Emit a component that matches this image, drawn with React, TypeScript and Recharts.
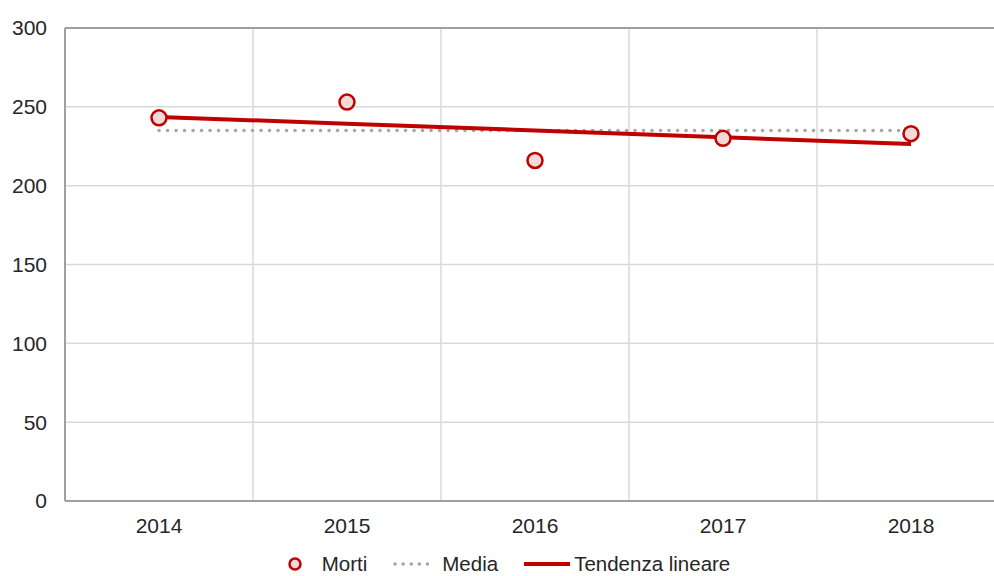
import { LineChart, Line, XAxis, YAxis, CartesianGrid, Legend, ReferenceLine } from "recharts";

const years = ["2014", "2015", "2016", "2017", "2018"];
const morti = [243, 253, 216, 230, 233];
const media = [235, 235, 235, 235, 235];
const tendenza = [243.6, 239.3, 235.0, 230.7, 226.4];
const yTicks = [0, 50, 100, 150, 200, 250, 300];

const RED = "#C00000";
const PINK = "#F4D9D9";
const GREY_DOT = "#A6A6A6";
const GRID = "#D9D9D9";
const AXIS = "#A0A0A0";
const TEXT = "#262626";
const FONT = "'Liberation Sans', Arial, sans-serif";

const data = years.map((year, i) => ({
  year,
  morti: morti[i],
  media: media[i],
  tendenza: tendenza[i],
}));

const legendItems = [
  { key: "morti", label: "Morti" },
  { key: "media", label: "Media" },
  { key: "tendenza", label: "Tendenza lineare" },
];

const LegendIcon = ({ kind }: { kind: string }) => {
  if (kind === "morti") {
    return (
      <svg width={14} height={18} style={{ marginRight: 20 }}>
        <circle cx={7} cy={9} r={5.5} fill={PINK} stroke={RED} strokeWidth={2.5} />
      </svg>
    );
  }
  if (kind === "media") {
    return (
      <svg width={44} height={18} style={{ marginRight: 5 }}>
        <line x1={2} y1={9} x2={42} y2={9} stroke={GREY_DOT} strokeWidth={3.5} strokeDasharray="0.1 8" strokeLinecap="round" />
      </svg>
    );
  }
  return (
    <svg width={46} height={18} style={{ marginRight: 4 }}>
      <line x1={0} y1={9} x2={46} y2={9} stroke={RED} strokeWidth={4} />
    </svg>
  );
};

const renderLegend = () => (
  <div style={{ display: "flex", justifyContent: "center", alignItems: "center", paddingTop: 9, height: 18, lineHeight: "18px", marginLeft: 24, fontFamily: FONT, fontSize: 20.5, color: TEXT }}>
    {legendItems.map((it) => (
      <div key={it.key} style={{ display: "flex", alignItems: "center", marginRight: it.key === "tendenza" ? 0 : 26 }}>
        <LegendIcon kind={it.key} />
        <span>{it.label}</span>
      </div>
    ))}
  </div>
);

export default function App() {
  return (
    <div style={{ position: "fixed", left: 0, top: 0, width: 994, height: 576, background: "#fff", overflow: "hidden" }}>
      <LineChart width={1005} height={576} data={data} margin={{ top: 28, right: 0, left: 0, bottom: 0 }}>
        <CartesianGrid
          stroke={GRID}
          strokeWidth={1.5}
          verticalCoordinatesGenerator={({ offset }: any) =>
            years.slice(1).map((_, i) => offset.left + (offset.width * (i + 1)) / years.length)
          }
        />
        <XAxis
          dataKey="year"
          scale="band"
          height={45}
          tickSize={0}
          tickMargin={17}
          axisLine={{ stroke: AXIS, strokeWidth: 2 }}
          tick={{ fill: TEXT, fontSize: 21, fontFamily: FONT }}
        />
        <YAxis
          domain={[0, 300]}
          ticks={yTicks}
          width={65}
          tickSize={0}
          tickMargin={18}
          axisLine={{ stroke: AXIS, strokeWidth: 2 }}
          tick={{ fill: TEXT, fontSize: 21, fontFamily: FONT }}
        />
        <ReferenceLine y={300} stroke={AXIS} strokeWidth={2} />
        <Legend verticalAlign="bottom" height={30} content={renderLegend} wrapperStyle={{ width: 994 }} />
        <Line
          dataKey="media"
          stroke={GREY_DOT}
          strokeWidth={3.5}
          strokeDasharray="0.1 8.4"
          strokeLinecap="round"
          dot={false}
          isAnimationActive={false}
        />
        <Line
          dataKey="tendenza"
          stroke={RED}
          strokeWidth={4}
          dot={false}
          isAnimationActive={false}
        />
        <Line
          dataKey="morti"
          stroke="none"
          dot={{ r: 7.5, fill: PINK, stroke: RED, strokeWidth: 2.5 }}
          isAnimationActive={false}
        />
      </LineChart>
    </div>
  );
}
